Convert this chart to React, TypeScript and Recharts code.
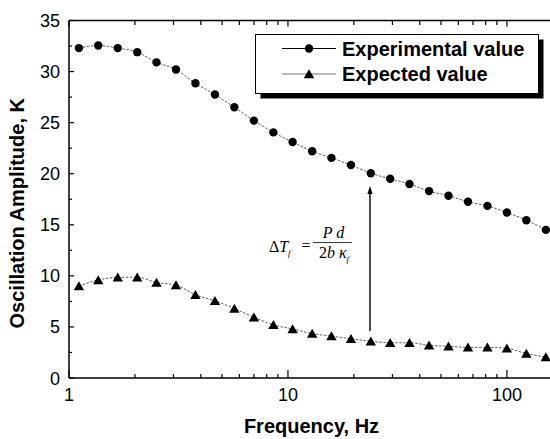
import { LineChart, Line, XAxis, YAxis, Legend, ReferenceLine, ReferenceDot } from "recharts"

// ---------------------------------------------------------------------------
// Data
// ---------------------------------------------------------------------------

const FREQ_HZ = [
  1.11, 1.36, 1.67, 2.05, 2.51, 3.08, 3.78, 4.64, 5.69, 6.99, 8.58, 10.5, 12.9,
  15.8, 19.4, 23.9, 29.3, 35.9, 44.1, 54.1, 66.4, 81.5, 100, 122.7, 150.6,
]

const EXPERIMENTAL_K = [
  32.3, 32.55, 32.3, 31.9, 30.9, 30.2, 28.85, 27.75, 26.5, 25.2, 24.05, 23.1, 22.2,
  21.55, 20.85, 20.05, 19.5, 19.0, 18.3, 17.85, 17.25, 16.85, 16.2, 15.45, 14.5,
]

const EXPECTED_K = [
  9.0, 9.6, 9.85, 9.87, 9.35, 9.1, 8.15, 7.55, 6.8, 5.95, 5.2, 4.8, 4.35,
  4.1, 3.85, 3.6, 3.45, 3.45, 3.2, 3.1, 3.0, 3.0, 2.9, 2.4, 2.05,
]

const SERIES_NAMES = ["Experimental value", "Expected value"]

const X_TICKS = [1, 2, 3, 4, 5, 6, 7, 8, 9, 10, 20, 30, 40, 50, 60, 70, 80, 90, 100]
const X_LABELS = [1, 10, 100]
const Y_TICKS = [0, 2.5, 5, 7.5, 10, 12.5, 15, 17.5, 20, 22.5, 25, 27.5, 30, 32.5, 35]
const Y_LABELS = [0, 5, 10, 15, 20, 25, 30, 35]

// annotation: arrow at ~23.7 Hz, formula near 12 Hz
const ARROW_HZ = 23.7
const ARROW_FROM_K = 4.6
const ARROW_TO_K = 18.8
const FORMULA_AT = { hz: 12.08, k: 12.83 }

const data = FREQ_HZ.map((f, i) => ({
  f,
  experimental: EXPERIMENTAL_K[i],
  expected: EXPECTED_K[i],
}))

const SANS = "'Liberation Sans', Arial, sans-serif"
const SERIF = "'Liberation Serif', 'Times New Roman', serif"

// ---------------------------------------------------------------------------
// Ticks (drawn inward, like the original)
// ---------------------------------------------------------------------------

function BottomTick({ x, y, payload }: any) {
  const major = X_LABELS.includes(payload.value)
  return (
    <g>
      <line x1={x} x2={x} y1={y} y2={y - (major ? 8 : 4)} stroke="#000" strokeWidth={1.2} />
      {major && (
        <text x={x} y={y + 23} textAnchor="middle" fontFamily={SANS} fontSize={18} fill="#000">
          {payload.value}
        </text>
      )}
    </g>
  )
}

function TopTick({ x, y, payload }: any) {
  const major = X_LABELS.includes(payload.value)
  return <line x1={x} x2={x} y1={y} y2={y + (major ? 6 : 4.5)} stroke="#000" strokeWidth={1.2} />
}

function LeftTick({ x, y, payload }: any) {
  const major = Y_LABELS.includes(payload.value)
  return (
    <g>
      <line x1={x} x2={x + (major ? 5 : 3)} y1={y} y2={y} stroke="#000" strokeWidth={1.2} />
      {major && (
        <text x={x - 9} y={y + 6.5} textAnchor="end" fontFamily={SANS} fontSize={18} fill="#000">
          {payload.value}
        </text>
      )}
    </g>
  )
}

function RightTick({ x, y, payload }: any) {
  const major = Y_LABELS.includes(payload.value)
  return <line x1={x} x2={x - (major ? 7 : 3)} y1={y} y2={y} stroke="#000" strokeWidth={1.2} />
}

// ---------------------------------------------------------------------------
// Markers
// ---------------------------------------------------------------------------

function CircleDot({ cx, cy, index }: any) {
  return <circle key={`c${index}`} cx={cx} cy={cy} r={4.2} fill="#000" />
}

function TriangleDot({ cx, cy, index }: any) {
  return (
    <path
      key={`t${index}`}
      d={`M${cx},${cy - 4.8} L${cx - 5.2},${cy + 4.2} L${cx + 5.2},${cy + 4.2} Z`}
      fill="#000"
    />
  )
}

// ---------------------------------------------------------------------------
// Legend & annotations
// ---------------------------------------------------------------------------

function LegendBox() {
  const rows = [
    { y: 14.5, color: "#000", marker: "circle" },
    { y: 40, color: "#777", marker: "triangle" },
  ]
  return (
    <svg width={292} height={68} style={{ display: "block" }}>
      <rect x={5.5} y={5.5} width={283} height={59} fill="#000" />
      <rect x={0.5} y={0.5} width={283} height={59} fill="#fff" stroke="#000" strokeWidth={1} />
      {rows.map((r, i) => (
        <g key={i}>
          <line x1={27} x2={81} y1={r.y} y2={r.y} stroke={r.color} strokeWidth={1} />
          {r.marker === "circle" ? (
            <circle cx={54} cy={r.y} r={4.2} fill="#000" />
          ) : (
            <path d={`M54,${r.y - 4.8} L48.8,${r.y + 4.2} L59.2,${r.y + 4.2} Z`} fill="#000" />
          )}
          <text x={87} y={r.y + 7} fontFamily={SANS} fontSize={20} fontWeight="bold" fill="#000">
            {SERIES_NAMES[i]}
          </text>
        </g>
      ))}
    </svg>
  )
}

function Arrow({ x1, y1, x2, y2 }: any) {
  const tip = Math.min(y1, y2)
  const base = Math.max(y1, y2)
  return (
    <g>
      <line x1={x1} x2={x2} y1={base} y2={tip + 6} stroke="#000" strokeWidth={1.4} />
      <path d={`M${x2},${tip} L${x2 - 2.6},${tip + 8} L${x2 + 2.6},${tip + 8} Z`} fill="#000" />
    </g>
  )
}

// cx, cy = centre of the "=" sign
function Formula({ cx, cy }: any) {
  return (
    <g fontFamily={SERIF} fontSize={16} fill="#000">
      <text x={cx - 37} y={cy + 5}>
        Δ<tspan fontStyle="italic">T</tspan>
        <tspan fontStyle="italic" fontSize={9} dy={4}>f</tspan>
      </text>
      <text x={cx} y={cy + 4.5} textAnchor="middle">=</text>
      <text x={cx + 27.5} y={cy - 9} textAnchor="middle" fontStyle="italic">P d</text>
      <line x1={cx + 7} x2={cx + 46} y1={cy - 4.4} y2={cy - 4.4} stroke="#000" strokeWidth={0.8} />
      <text x={cx + 13} y={cy + 11}>
        2<tspan fontStyle="italic">b κ</tspan>
        <tspan fontStyle="italic" fontSize={9} dy={4}>f</tspan>
      </text>
    </g>
  )
}

// ---------------------------------------------------------------------------
// Component
// ---------------------------------------------------------------------------

export default function App() {
  return (
    <div style={{ width: 550, height: 439, overflow: "hidden", position: "relative", background: "#fff" }}>
      <style>{`body{margin:0;background:#fff}`}</style>
      <LineChart width={553} height={439} data={data} margin={{ top: 0, right: 0, bottom: 0, left: 0 }}>
        <XAxis
          xAxisId="b"
          dataKey="f"
          type="number"
          scale="log"
          domain={[1, 159]}
          allowDataOverflow
          ticks={X_TICKS}
          interval={0}
          tick={<BottomTick />}
          tickLine={false}
          tickSize={0}
          tickMargin={0}
          height={61}
          axisLine={{ stroke: "#000", strokeWidth: 1.5 }}
          label={({ viewBox }: any) => (
            <text
              x={viewBox.x + viewBox.width / 2 + 1.5}
              y={viewBox.y + 55}
              textAnchor="middle"
              fontFamily={SANS}
              fontSize={20}
              fontWeight="bold"
              fill="#000"
            >
              Frequency, Hz
            </text>
          )}
        />
        <XAxis
          xAxisId="t"
          orientation="top"
          dataKey="f"
          type="number"
          scale="log"
          domain={[1, 159]}
          allowDataOverflow
          ticks={X_TICKS}
          interval={0}
          tick={<TopTick />}
          tickLine={false}
          tickSize={0}
          tickMargin={0}
          height={20.5}
          axisLine={{ stroke: "#000", strokeWidth: 1.5 }}
        />
        <YAxis
          yAxisId="l"
          type="number"
          domain={[0, 35]}
          ticks={Y_TICKS}
          interval={0}
          tick={<LeftTick />}
          tickLine={false}
          tickSize={0}
          tickMargin={0}
          width={69}
          axisLine={{ stroke: "#000", strokeWidth: 1.5 }}
          label={({ viewBox }: any) => {
            const cx = 24
            const cy = viewBox.y + viewBox.height / 2 + 14
            return (
              <text
                x={cx}
                y={cy}
                transform={`rotate(-90 ${cx} ${cy})`}
                textAnchor="middle"
                fontFamily={SANS}
                fontSize={20}
                fontWeight="bold"
                fill="#000"
              >
                Oscillation Amplitude, K
              </text>
            )
          }}
        />
        <YAxis
          yAxisId="r"
          orientation="right"
          type="number"
          domain={[0, 35]}
          ticks={Y_TICKS}
          interval={0}
          tick={<RightTick />}
          tickLine={false}
          tickSize={0}
          tickMargin={0}
          width={2}
          axisLine={{ stroke: "#000", strokeWidth: 1.5 }}
        />

        <Legend
          layout="horizontal"
          align="center"
          verticalAlign="middle"
          content={<LegendBox />}
          wrapperStyle={{ position: "absolute", left: 255, top: 34, width: 292, height: 68 }}
        />

        <ReferenceLine
          xAxisId="b"
          yAxisId="l"
          segment={[
            { x: ARROW_HZ, y: ARROW_FROM_K },
            { x: ARROW_HZ, y: ARROW_TO_K },
          ]}
          shape={Arrow}
        />
        <ReferenceDot
          xAxisId="b"
          yAxisId="l"
          x={FORMULA_AT.hz}
          y={FORMULA_AT.k}
          shape={Formula}
        />

        <Line
          xAxisId="b"
          yAxisId="l"
          name={SERIES_NAMES[0]}
          dataKey="experimental"
          type="monotone"
          stroke="#333"
          strokeWidth={0.8}
          strokeDasharray="2.5 1.5"
          dot={CircleDot}
          activeDot={false}
          isAnimationActive={false}
        />
        <Line
          xAxisId="b"
          yAxisId="l"
          name={SERIES_NAMES[1]}
          dataKey="expected"
          type="monotone"
          stroke="#333"
          strokeWidth={0.8}
          strokeDasharray="2.5 1.5"
          dot={TriangleDot}
          activeDot={false}
          isAnimationActive={false}
        />
      </LineChart>
    </div>
  )
}
